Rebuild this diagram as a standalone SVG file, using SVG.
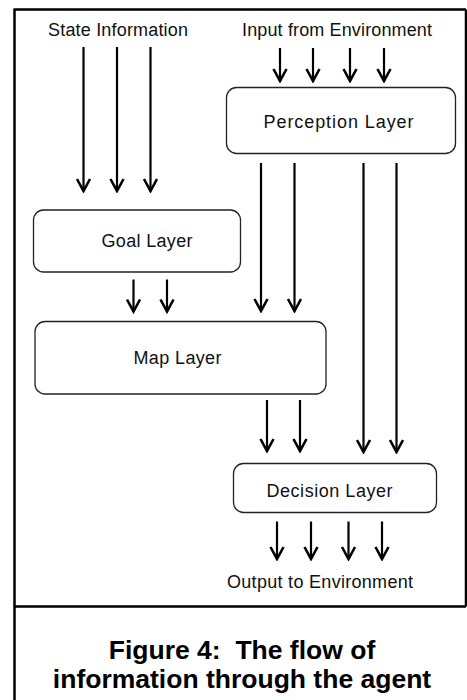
<svg xmlns="http://www.w3.org/2000/svg" width="467" height="700" viewBox="0 0 467 700">
<style>
.frame{fill:none;stroke:#000;stroke-width:2.5}
.box{fill:#fff;stroke:#222;stroke-width:1.3}
.lbl{font-family:"Liberation Sans",Arial,sans-serif;font-size:18px;fill:#111;text-anchor:middle}
.cap{font-family:"Liberation Sans",Arial,sans-serif;font-size:26.5px;font-weight:bold;fill:#000;text-anchor:middle;white-space:pre}
.arr{stroke:#000;stroke-width:2.2;fill:none;marker-end:url(#ah)}
</style>
<defs>
<marker id="ah" markerUnits="userSpaceOnUse" markerWidth="16" markerHeight="18" viewBox="-14 -9 16 18" refX="0" refY="0" orient="auto">
<path d="M-12,-6.5 L0,0 L-12,6.5" fill="none" stroke="#000" stroke-width="2.6" stroke-linejoin="miter"/>
</marker>
</defs>
<rect width="467" height="700" fill="#fff"/>
<g id="frame">
<path class="frame" d="M14,9.5 H466 M466,9.5 V606.5 M14,606.5 H466 M14.5,8.5 V700"/>
</g>
<g id="labels">
<text class="lbl" x="118" y="36" textLength="140" lengthAdjust="spacing">State Information</text>
<text class="lbl" x="337" y="36" textLength="190" lengthAdjust="spacing">Input from Environment</text>
<text class="lbl" x="320" y="588" textLength="186" lengthAdjust="spacing">Output to Environment</text>
</g>
<g id="perception">
<rect class="box" x="226.5" y="87.5" width="229" height="66" rx="10"/>
<text class="lbl" x="338.5" y="128" textLength="150" lengthAdjust="spacing">Perception Layer</text>
</g>
<g id="goal">
<rect class="box" x="33.5" y="210" width="207" height="62" rx="10"/>
<text class="lbl" x="147" y="247" textLength="91" lengthAdjust="spacing">Goal Layer</text>
</g>
<g id="map">
<rect class="box" x="35" y="321.5" width="291" height="72.5" rx="10"/>
<text class="lbl" x="177.5" y="364" textLength="88" lengthAdjust="spacing">Map Layer</text>
</g>
<g id="decision">
<rect class="box" x="233.5" y="463.5" width="203" height="49" rx="10"/>
<text class="lbl" x="329.5" y="496.5" textLength="126" lengthAdjust="spacing">Decision Layer</text>
</g>
<g id="connectors">
<path class="arr" d="M83.5,47 V191"/>
<path class="arr" d="M117,47 V191"/>
<path class="arr" d="M150.5,47 V191"/>
<path class="arr" d="M280,48 V81"/>
<path class="arr" d="M313,48 V81"/>
<path class="arr" d="M350,48 V81"/>
<path class="arr" d="M384,48 V81"/>
<path class="arr" d="M261,163 V311"/>
<path class="arr" d="M294.5,163 V311"/>
<path class="arr" d="M363.5,163 V452"/>
<path class="arr" d="M396.5,163 V452"/>
<path class="arr" d="M133.5,279.5 V311.5"/>
<path class="arr" d="M167,279.5 V311.5"/>
<path class="arr" d="M267,400 V451"/>
<path class="arr" d="M300,400 V451"/>
<path class="arr" d="M277,521.5 V559"/>
<path class="arr" d="M311,521.5 V559"/>
<path class="arr" d="M348.5,521.5 V559"/>
<path class="arr" d="M382,521.5 V559"/>
</g>
<g id="caption">
<text class="cap" x="242" y="659" xml:space="preserve">Figure 4:  The flow of</text>
<text class="cap" x="242" y="688">information through the agent</text>
</g>
</svg>
